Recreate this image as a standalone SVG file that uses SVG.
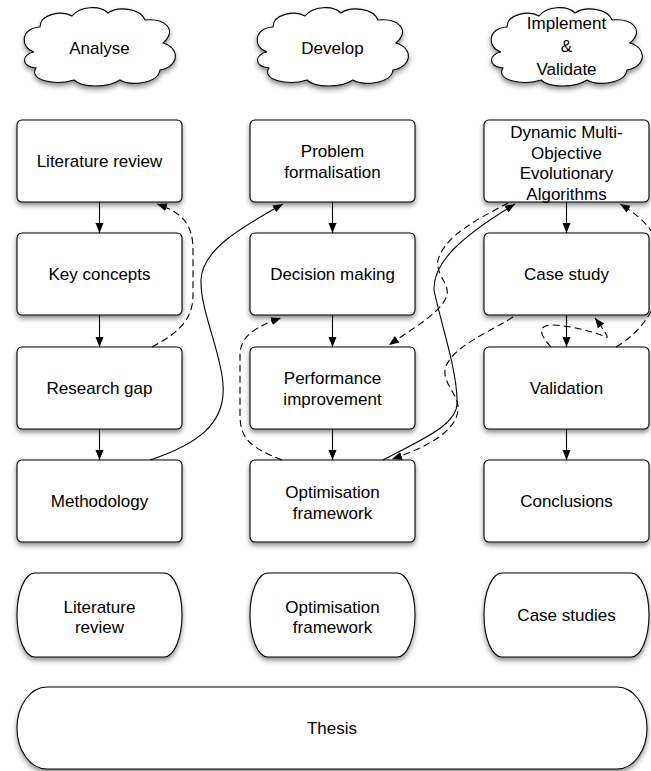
<svg xmlns="http://www.w3.org/2000/svg" xmlns:xlink="http://www.w3.org/1999/xlink" width="651" height="771" viewBox="0 0 651 771">
<style>
.shape{fill:#fff;stroke:#000;stroke-width:1.1;filter:url(#sh)}
.t{font-family:"Liberation Sans",Arial,Helvetica,sans-serif;font-size:17px;fill:#000;text-anchor:middle}
.c{fill:none;stroke:#000;stroke-width:1.1;marker-end:url(#ah)}
.d{stroke-dasharray:7,4}
</style>
<defs>
<filter id="sh" x="-20%" y="-20%" width="140%" height="150%">
<feDropShadow dx="0" dy="3" stdDeviation="2.5" flood-color="#000" flood-opacity="0.45"/>
</filter>
<marker id="ah" viewBox="0 0 10 10" refX="10" refY="5" markerWidth="10" markerHeight="10" markerUnits="userSpaceOnUse" orient="auto">
<path d="M0,1 L10,5 L0,9 Z" fill="#000" stroke="none"/>
</marker>
<path id="cloud" d="M -66,7 C -80,3 -80,-17 -60,-18 C -60,-31 -38,-35 -28,-29 C -20,-39 0,-40 8,-32 C 18,-39 40,-37 45,-25 C 65,-27 78,-15 63,-2 C 80,3 80,21 60,25 C 58,39 30,41 20,35 C 8,43 -18,43 -26,35 C -45,41 -72,35 -64,23 C -80,21 -78,9 -66,7 Z"/>
</defs>

<g id="cloud-analyse">
<use xlink:href="#cloud" href="#cloud" class="shape" transform="translate(100,45)"/>
<text class="t" x="99.5" y="54">Analyse</text>
</g>
<g id="cloud-develop">
<use xlink:href="#cloud" href="#cloud" class="shape" transform="translate(333,45)"/>
<text class="t" x="332.5" y="54">Develop</text>
</g>
<g id="cloud-implement">
<use xlink:href="#cloud" href="#cloud" class="shape" transform="translate(567,45)"/>
<text class="t" x="566.5" y="28.5">Implement</text>
<text class="t" x="566.5" y="51.5">&amp;</text>
<text class="t" x="566.5" y="74.5">Validate</text>
</g>

<g id="literature-review">
<rect class="shape" x="17" y="120" width="165" height="82" rx="5"/>
<text class="t" x="99.5" y="167">Literature review</text>
</g>
<g id="key-concepts">
<rect class="shape" x="17" y="233" width="165" height="82" rx="5"/>
<text class="t" x="99.5" y="280">Key concepts</text>
</g>
<g id="research-gap">
<rect class="shape" x="17" y="347" width="165" height="82" rx="5"/>
<text class="t" x="99.5" y="394">Research gap</text>
</g>
<g id="methodology">
<rect class="shape" x="17" y="460" width="165" height="82" rx="5"/>
<text class="t" x="99.5" y="507">Methodology</text>
</g>

<g id="problem-formalisation">
<rect class="shape" x="250" y="120" width="165" height="82" rx="5"/>
<text class="t" x="332.5" y="157">Problem</text>
<text class="t" x="332.5" y="178">formalisation</text>
</g>
<g id="decision-making">
<rect class="shape" x="250" y="233" width="165" height="82" rx="5"/>
<text class="t" x="332.5" y="280">Decision making</text>
</g>
<g id="performance-improvement">
<rect class="shape" x="250" y="347" width="165" height="82" rx="5"/>
<text class="t" x="332.5" y="384">Performance</text>
<text class="t" x="332.5" y="405">improvement</text>
</g>
<g id="optimisation-framework">
<rect class="shape" x="250" y="460" width="165" height="82" rx="5"/>
<text class="t" x="332.5" y="498">Optimisation</text>
<text class="t" x="332.5" y="519">framework</text>
</g>

<g id="dmoea">
<rect class="shape" x="484" y="120" width="165" height="82" rx="5"/>
<text class="t" x="566.5" y="138">Dynamic Multi-</text>
<text class="t" x="566.5" y="158.5">Objective</text>
<text class="t" x="566.5" y="179">Evolutionary</text>
<text class="t" x="566.5" y="199.5">Algorithms</text>
</g>
<g id="case-study">
<rect class="shape" x="484" y="233" width="165" height="82" rx="5"/>
<text class="t" x="566.5" y="280">Case study</text>
</g>
<g id="validation">
<rect class="shape" x="484" y="347" width="165" height="82" rx="5"/>
<text class="t" x="566.5" y="394">Validation</text>
</g>
<g id="conclusions">
<rect class="shape" x="484" y="460" width="165" height="82" rx="5"/>
<text class="t" x="566.5" y="507">Conclusions</text>
</g>

<g id="out-literature-review">
<rect class="shape" x="17" y="573" width="165" height="84" rx="18" ry="42"/>
<text class="t" x="99.5" y="613">Literature</text>
<text class="t" x="99.5" y="633">review</text>
</g>
<g id="out-optimisation-framework">
<rect class="shape" x="250" y="573" width="165" height="84" rx="18" ry="42"/>
<text class="t" x="332.5" y="613">Optimisation</text>
<text class="t" x="332.5" y="633">framework</text>
</g>
<g id="out-case-studies">
<rect class="shape" x="484" y="573" width="165" height="84" rx="18" ry="42"/>
<text class="t" x="566.5" y="621">Case studies</text>
</g>
<g id="thesis">
<rect class="shape" x="17" y="687" width="630" height="82" rx="30" ry="41"/>
<text class="t" x="332" y="734">Thesis</text>
</g>

<g id="connectors">
<path class="c" d="M99.5,202 V233"/>
<path class="c" d="M99.5,315 V347"/>
<path class="c" d="M99.5,429 V460"/>
<path class="c" d="M332.5,202 V233"/>
<path class="c" d="M332.5,315 V347"/>
<path class="c" d="M332.5,429 V460"/>
<path class="c" d="M566.5,202 V233"/>
<path class="c" d="M566.5,315 V347"/>
<path class="c" d="M566.5,429 V460"/>

<path class="c d" d="M152,347 C178,333 193,320 193,295 L193,250 C193,222 180,212 157,204"/>
<path class="c" d="M150,460 C195,445 226,425 223,385 C222,355 200,310 201,280 C202,250 240,228 283,204"/>
<path class="c d" d="M282,460 C252,448 240,440 240,415 L240,355 C240,335 258,326 281,318"/>
<path class="c" d="M383,460 C420,440 460,425 457,400 C457,370 440,320 434,290 C433,262 462,236 515,204"/>
<path class="c d" d="M508,203 C480,218 445,235 438,260 C435,275 452,285 446,298 C438,315 410,330 389,345"/>
<path class="c d" d="M513,317 C490,332 455,345 446,366 C440,382 460,395 458,410 C456,432 425,448 392,459"/>
<path class="c d" d="M616,347 C645,330 662,300 662,270 C662,240 650,222 620,204"/>
<path class="c d" d="M551,347 C538,333 538,325 553,325 C575,326 600,334 606,337 C610,339 604,330 595,318"/>
</g>
</svg>
